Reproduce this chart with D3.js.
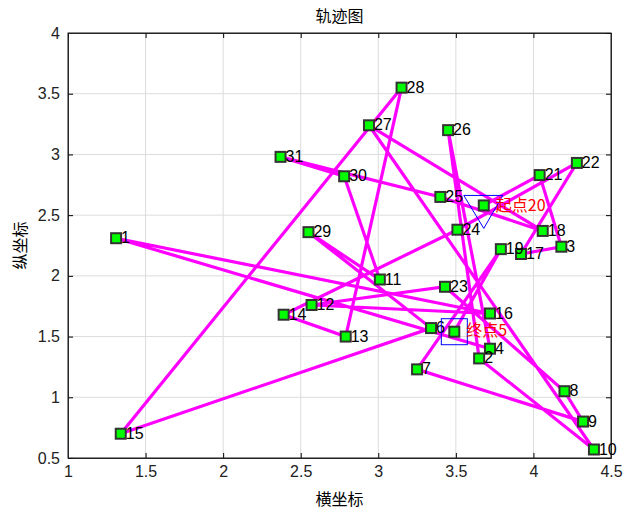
<!DOCTYPE html><html><head><meta charset="utf-8"><script src="https://cdn.jsdelivr.net/npm/d3@7"></script>
<style>body{margin:0;background:#fff}text{font-family:"Noto Sans CJK SC",Arial,sans-serif}</style></head><body><svg id="c" width="639" height="512"></svg><script>
const xs=[1.31,3.65,4.18,3.72,3.49,3.34,3.25,4.20,4.32,4.39,3.01,2.57,2.79,2.39,1.34,3.72,3.92,4.06,3.79,3.68,4.04,4.28,3.43,3.51,3.40,3.45,2.94,3.15,2.55,2.78,2.37];
const ys=[2.31,1.32,2.24,1.40,1.54,1.57,1.23,1.05,0.80,0.57,1.97,1.76,1.50,1.68,0.70,1.69,2.18,2.37,2.22,2.58,2.83,2.93,1.91,2.38,2.65,3.20,3.24,3.55,2.36,2.82,2.98];
const route=[20,21,3,17,22,24,14,13,28,15,6,29,11,30,31,25,18,27,10,2,26,4,1,16,12,23,8,9,7,19,5];
const xTicks=[1,1.5,2,2.5,3,3.5,4,4.5], yTicks=[0.5,1,1.5,2,2.5,3,3.5,4];
const L=68,R=611,T=33,B=458;
const svg=d3.select("#c");
const x=d3.scaleLinear().domain([1,4.5]).range([L,R]);
const y=d3.scaleLinear().domain([0.5,4]).range([B,T]);
const g=svg.append("g");
g.selectAll(".gx").data(xTicks).enter().append("line").attr("x1",d=>x(d)).attr("x2",d=>x(d)).attr("y1",T).attr("y2",B).attr("stroke","#dcdcdc");
g.selectAll(".gy").data(yTicks).enter().append("line").attr("y1",d=>y(d)).attr("y2",d=>y(d)).attr("x1",L).attr("x2",R).attr("stroke","#dcdcdc");
svg.append("g").attr("transform",`translate(0,${B})`).call(d3.axisBottom(x).tickValues(xTicks).tickSizeInner(-5).tickSizeOuter(0).tickPadding(8).tickFormat(d3.format("")));
svg.append("g").attr("transform",`translate(${L},0)`).call(d3.axisLeft(y).tickValues(yTicks).tickSizeInner(-5).tickSizeOuter(0).tickPadding(8).tickFormat(d3.format("")));
svg.append("g").attr("transform",`translate(0,${T})`).call(d3.axisTop(x).tickValues(xTicks).tickSizeInner(-5).tickSizeOuter(0).tickFormat(""));
svg.append("g").attr("transform",`translate(${R},0)`).call(d3.axisRight(y).tickValues(yTicks).tickSizeInner(-5).tickSizeOuter(0).tickFormat(""));
svg.selectAll(".tick text").attr("font-size",16).attr("fill","#222").style("font-family","Arial");
svg.selectAll(".domain").attr("stroke","#262626");
svg.append("rect").attr("x",L).attr("y",T).attr("width",R-L).attr("height",B-T).attr("fill","none").attr("stroke","#262626");
const pts=route.map(i=>[x(xs[i-1]),y(ys[i-1])]);
svg.append("path").attr("d",d3.line()(pts)).attr("fill","none").attr("stroke","#ff00ff").attr("stroke-width",3.2);
const s=20,e=5;
const idx=d3.range(xs.length);
svg.selectAll(".m").data(idx).enter().append("rect").attr("x",i=>x(xs[i])-5).attr("y",i=>y(ys[i])-5).attr("width",10).attr("height",10).attr("fill","#00ff00").attr("stroke","#333").attr("stroke-width",2);
svg.selectAll(".l").data(idx.filter(i=>i+1!==s&&i+1!==e)).enter().append("text").attr("x",i=>x(xs[i])+5).attr("y",i=>y(ys[i])+5).text(i=>i+1).attr("font-size",16).style("font-family","Arial");
const sx=x(xs[s-1]),sy=y(ys[s-1]);
svg.append("path").attr("d",`M${sx-20},${sy-10}L${sx+19},${sy-10}L${sx},${sy+23}Z`).attr("fill","none").attr("stroke","blue");
svg.append("text").attr("x",sx+12).attr("y",sy+6).text("起点"+s).attr("fill","red").attr("font-size",16);
const ex=x(xs[e-1]),ey=y(ys[e-1]);
svg.append("rect").attr("x",ex-13).attr("y",ey-13).attr("width",26).attr("height",26).attr("fill","none").attr("stroke","blue");
svg.append("text").attr("x",ex+12).attr("y",ey+4).text("终点"+e).attr("fill","red").attr("font-size",16);
svg.append("text").attr("x",(L+R)/2).attr("y",22).attr("text-anchor","middle").attr("font-size",16).text("轨迹图");
svg.append("text").attr("x",(L+R)/2).attr("y",505).attr("text-anchor","middle").attr("font-size",16).text("横坐标");
svg.append("text").attr("transform",`translate(26,${(T+B)/2}) rotate(-90)`).attr("text-anchor","middle").attr("font-size",16).text("纵坐标");
</script></body></html>
